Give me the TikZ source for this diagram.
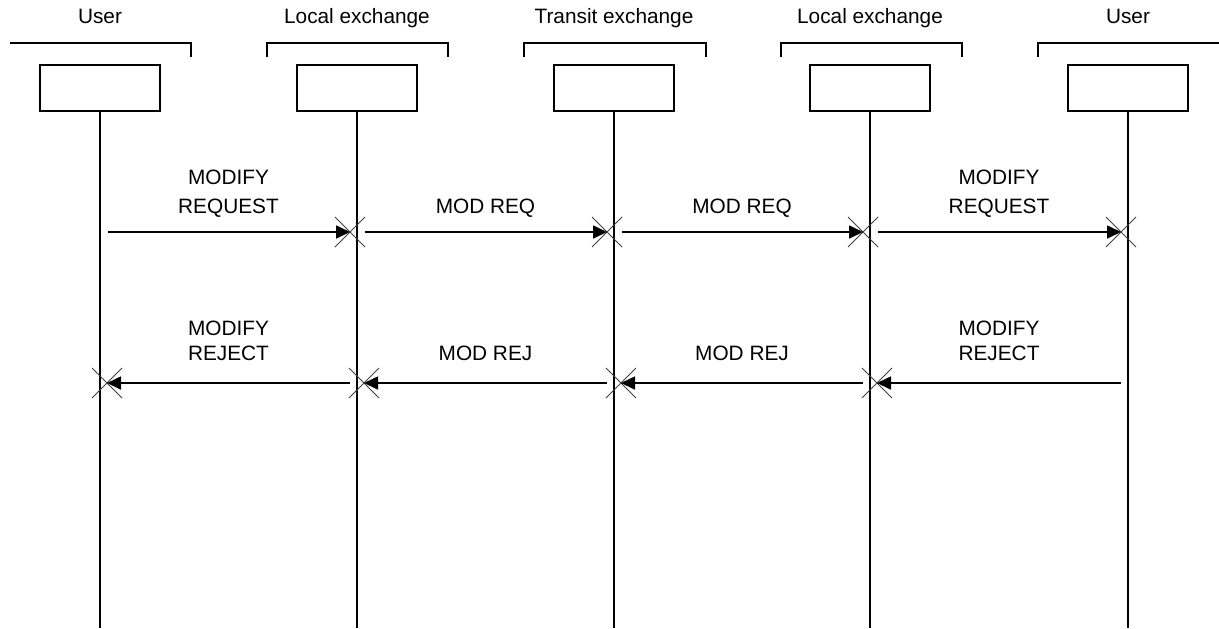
\documentclass[tikz,border=0pt]{standalone}
\usepackage{fontspec}
\setmainfont{Liberation Sans}
\usetikzlibrary{arrows.meta,calc}
\begin{document}
\begin{tikzpicture}[x=0.5pt,y=-0.5pt,
 ent/.style={draw, line width=0.6pt, minimum width=60pt, minimum height=23pt, inner sep=0pt},
 life/.style={line width=1pt},
 msg/.style={line width=0.85pt, -{Triangle[length=7pt,width=6.5pt]}},
 cross/.style={line width=0.45pt, draw=black!75},
 brk/.style={line width=0.6pt},
 lbl/.style={font=\fontsize{10.4pt}{12pt}\selectfont, inner sep=0pt, anchor=base}]
\useasboundingbox (0,0) rectangle (1219,628);
% headers
\node[lbl] (h1) at (100,23.5) {User};
\node[lbl] (h2) at (357,23.5) {Local exchange};
\node[lbl] (h3) at (614,23.5) {Transit exchange};
\node[lbl] (h4) at (870,23.5) {Local exchange};
\node[lbl] (h5) at (1128,23.5) {User};
% brackets
\draw[brk] (10,43) -- (191,43) -- (191,57);
\draw[brk] (267,57) -- (267,43) -- (448,43) -- (448,57);
\draw[brk] (524,57) -- (524,43) -- (706,43) -- (706,57);
\draw[brk] (781,57) -- (781,43) -- (962,43) -- (962,57);
\draw[brk] (1038,57) -- (1038,43) -- (1219,43);
% entity boxes
\foreach \i/\x in {1/100,2/357,3/614,4/870,5/1128}{
  \node[ent] (b\i) at (\x,88) {};
  \coordinate (e\i) at (\x,628);
  \draw[life] (b\i.south) -- (e\i);
  % request row points
  \coordinate (qs\i) at (\x+8,232);
  \coordinate (qt\i) at (\x-7,232);
  % reject row points
  \coordinate (rs\i) at (\x-7,383);
  \coordinate (rt\i) at (\x+7,383);
}
% crosses
\foreach \i in {2,3,4,5}{
  \draw[cross] ($(qt\i)+(-15,-15)$) -- ($(qt\i)+(15,15)$);
  \draw[cross] ($(qt\i)+(-15,15)$) -- ($(qt\i)+(15,-15)$);
}
\foreach \i in {1,2,3,4}{
  \draw[cross] ($(rt\i)+(-15,-15)$) -- ($(rt\i)+(15,15)$);
  \draw[cross] ($(rt\i)+(-15,15)$) -- ($(rt\i)+(15,-15)$);
}
% request messages
\draw[msg] (qs1) -- (qt2);
\draw[msg] (qs2) -- (qt3);
\draw[msg] (qs3) -- (qt4);
\draw[msg] (qs4) -- (qt5);
% reject messages
\draw[msg] (rs5) -- (rt4);
\draw[msg] (rs4) -- (rt3);
\draw[msg] (rs3) -- (rt2);
\draw[msg] (rs2) -- (rt1);
% labels
\node[lbl] (l1a) at (228.5,184.5) {MODIFY};
\node[lbl] (l1b) at (228.5,213.5) {REQUEST};
\node[lbl] (l2) at (485.5,213.5) {MOD REQ};
\node[lbl] (l3) at (742,213.5) {MOD REQ};
\node[lbl] (l4a) at (999,184.5) {MODIFY};
\node[lbl] (l4b) at (999,213.5) {REQUEST};
\node[lbl] (m1a) at (228.5,335.5) {MODIFY};
\node[lbl] (m1b) at (228.5,360.5) {REJECT};
\node[lbl] (m2) at (485.5,360.5) {MOD REJ};
\node[lbl] (m3) at (742,360.5) {MOD REJ};
\node[lbl] (m4a) at (999,335.5) {MODIFY};
\node[lbl] (m4b) at (999,360.5) {REJECT};
\end{tikzpicture}
\end{document}
